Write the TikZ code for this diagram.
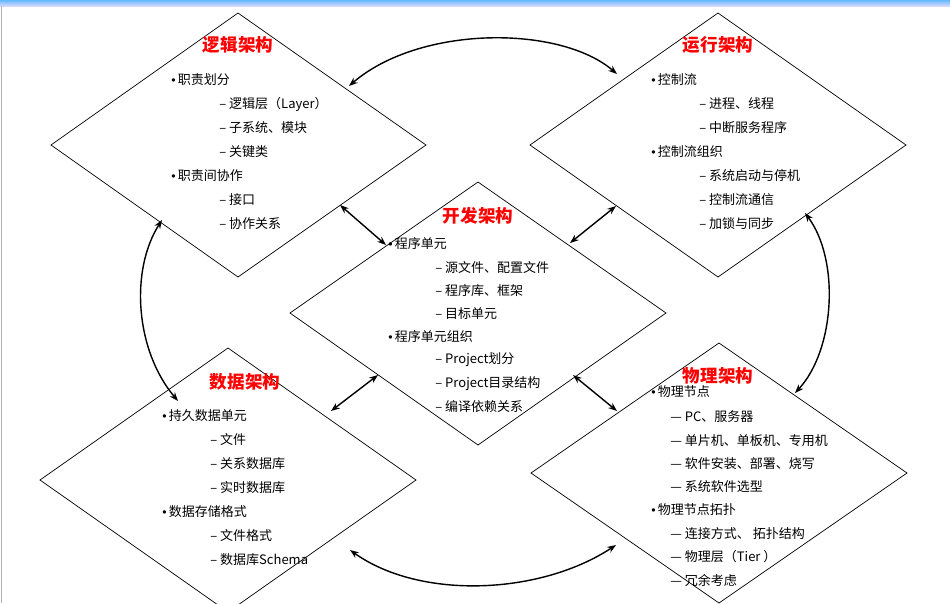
\documentclass[tikz,border=0pt]{standalone}
\usepackage{fontspec}
\setmainfont{Noto Sans CJK SC}
\newfontfamily\latinfont{Liberation Sans}
\newcommand{\bul}{{\latinfont\scriptsize•}\,}
\usetikzlibrary{arrows.meta}

\begin{document}
\begin{tikzpicture}[x=0.02cm, y=-0.02cm,
    title/.style = {text=red, font=\bfseries\fontsize{10}{12}\selectfont},
    item/.style = {anchor=west, inner sep=0pt, font=\fontsize{7.4}{9}\selectfont},
    dia/.style = {draw, thin},
    link/.style = {{Stealth[length=5pt]}-{Stealth[length=5pt]}, thick}]
    \useasboundingbox (0,0) rectangle (950,603);
    \fill[top color=blue!45!cyan!60, bottom color=blue!15] (0,0) rectangle (950,6);
    \draw[gray!60] (1,6) -- (1,603);

    % diamonds
    \draw[dia] (238,13) -- (426,145) -- (238,277) -- (51,145) -- cycle;
    \draw[dia] (718,13) -- (906,145) -- (718,277) -- (530,145) -- cycle;
    \draw[dia] (478,182) -- (666,313) -- (478,445) -- (290,313) -- cycle;
    \draw[dia] (228,348) -- (416,480) -- (228,612) -- (40,480) -- cycle;
    \draw[dia] (719,343) -- (907,473) -- (719,603) -- (531,473) -- cycle;

    % titles
    \node[title] (tlog) at (238,45) {逻辑架构};
    \node[title] (trun) at (718,45) {运行架构};
    \node[title] (tdev) at (478,216) {开发架构};
    \node[title] (tdat) at (245,382) {数据架构};
    \node[title] (tphy) at (718,376) {物理架构};

    % logical
    \foreach \t [count=\i] in {职责划分, 职责间协作}
        \node[item] (log\i) at (171,{80+(\i-1)*96}) {\bul\t};
    \foreach \t [count=\i] in {– 逻辑层（Layer）, – 子系统、模块, – 关键类}
        \node[item] (logs\i) at (219,{104+(\i-1)*24}) {\t};
    \foreach \t [count=\i] in {– 接口, – 协作关系}
        \node[item] (logt\i) at (219,{200+(\i-1)*24}) {\t};

    % runtime
    \foreach \t [count=\i] in {控制流, 控制流组织}
        \node[item] (run\i) at (651,{80+(\i-1)*72}) {\bul\t};
    \foreach \t [count=\i] in {– 进程、线程, – 中断服务程序}
        \node[item] (runs\i) at (699,{104+(\i-1)*24}) {\t};
    \foreach \t [count=\i] in {– 系统启动与停机, – 控制流通信, – 加锁与同步}
        \node[item] (runt\i) at (699,{176+(\i-1)*24}) {\t};

    % development
    \foreach \t [count=\i] in {程序单元, 程序单元组织}
        \node[item] (dev\i) at (388,{244+(\i-1)*93}) {\bul\t};
    \foreach \t [count=\i] in {– 源文件、配置文件, – 程序库、框架, – 目标单元}
        \node[item] (devs\i) at (435,{268+(\i-1)*23}) {\t};
    \foreach \t [count=\i] in {– Project划分, – Project目录结构, – 编译依赖关系}
        \node[item] (devt\i) at (435,{360+(\i-1)*23.5}) {\t};

    % data
    \foreach \t [count=\i] in {持久数据单元, 数据存储格式}
        \node[item] (dat\i) at (162,{416+(\i-1)*96}) {\bul\t};
    \foreach \t [count=\i] in {– 文件, – 关系数据库, – 实时数据库}
        \node[item] (dats\i) at (210,{440+(\i-1)*24}) {\t};
    \foreach \t [count=\i] in {– 文件格式, – 数据库Schema}
        \node[item] (datt\i) at (210,{536+(\i-1)*24}) {\t};

    % physical
    \foreach \t [count=\i] in {物理节点, 物理节点拓扑}
        \node[item] (phy\i) at (651,{392+(\i-1)*118}) {\bul\t};
    \foreach \t [count=\i] in {— PC、服务器, — 单片机、单板机、专用机, — 软件安装、部署、烧写, — 系统软件选型}
        \node[item] (phys\i) at (670,{417+(\i-1)*23.3}) {\t};
    \foreach \t [count=\i] in {— 连接方式、 拓扑结构, — 物理层（Tier ）, — 冗余考虑}
        \node[item] (phyt\i) at (670,{534+(\i-1)*23}) {\t};

    % end points
    \coordinate (a1) at (349,86);  \coordinate (a2) at (617,74);
    \coordinate (b1) at (805,213); \coordinate (b2) at (795,393);
    \coordinate (c1) at (162,220); \coordinate (c2) at (178,401);
    \coordinate (d1) at (350,550); \coordinate (d2) at (616,545);
    \coordinate (e1) at (340,205); \coordinate (e2) at (386,245);
    \coordinate (f1) at (616,206); \coordinate (f2) at (570,243);
    \coordinate (g1) at (378,375); \coordinate (g2) at (331,411);
    \coordinate (h1) at (573,375); \coordinate (h2) at (617,411);

    \draw[link] (a1) .. controls (420,25) and (560,25) .. (a2);
    \draw[link] (b1) .. controls (840,260) and (835,350) .. (b2);
    \draw[link] (c1) .. controls (130,270) and (135,350) .. (c2);
    \draw[link] (d1) .. controls (420,600) and (540,595) .. (d2);
    \draw[link] (e1) -- (e2);
    \draw[link] (f1) -- (f2);
    \draw[link] (g1) -- (g2);
    \draw[link] (h1) -- (h2);
\end{tikzpicture}
\end{document}
